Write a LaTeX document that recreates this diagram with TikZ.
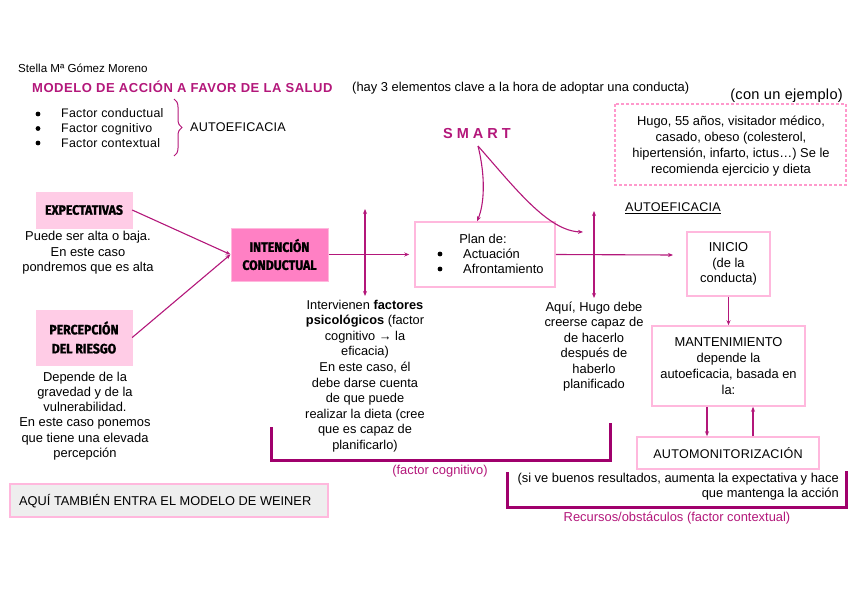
\documentclass[tikz,border=0pt]{standalone}
\usepackage{fontspec}
\setmainfont{Liberation Sans}
\newfontfamily\boxfont[FakeStretch=0.9,FakeBold=1.4]{Fira Sans}
\newfontfamily\titlefont[LetterSpace=4.2]{Liberation Sans}
\newfontfamily\smallspaced[LetterSpace=2]{Liberation Sans}
\usetikzlibrary{arrows.meta,decorations.pathreplacing,calc}
\definecolor{mag}{HTML}{B3177A}
\definecolor{darkmag}{HTML}{A0006C}
\definecolor{pinkborder}{HTML}{FFB8DD}
\definecolor{pinklight}{HTML}{FFCCE6}
\definecolor{hotpink}{HTML}{FF80C4}
\definecolor{dashpink}{HTML}{FF99CC}
\definecolor{weinergray}{HTML}{EEEEEE}
\tikzset{
  txt/.style={font=\fontsize{12.9}{15.5}\selectfont, inner sep=0pt, align=center},
  smalltxt/.style={font=\fontsize{12.9}{15}\selectfont, inner sep=0pt},
  magtxt/.style={font=\fontsize{12.9}{15}\selectfont, inner sep=0pt, text=mag},
  arr/.style={draw=mag, line width=1.1pt, -{Stealth[length=5pt,width=4pt]}},
  dblarr/.style={draw=mag, line width=1.1pt, {Stealth[length=5pt,width=4pt]}-{Stealth[length=5pt,width=4pt]}},
  bracketline/.style={draw=darkmag, line width=3pt},
  lightbox/.style={fill=pinklight, draw=pinklight, inner sep=0pt, align=center,
     font=\boxfont\bfseries\fontsize{13.6}{19}\selectfont},
  hotbox/.style={fill=hotpink, draw=pinkborder, line width=1pt, inner sep=0pt, align=center,
     font=\boxfont\bfseries\fontsize{13.6}{18}\selectfont},
  whitebox/.style={draw=pinkborder, line width=1.5pt, inner sep=0pt, align=center,
     font=\fontsize{12.9}{15.8}\selectfont},
}
\begin{document}
\begin{tikzpicture}[x=1pt,y=-1pt]
\useasboundingbox (0,0) rectangle (848,597);

% header
\node[inner sep=0pt, anchor=base west, font=\fontsize{11.6}{12}\selectfont] (stella) at (18,72) {Stella Mª Gómez Moreno};
\node[inner sep=0pt, anchor=base west, text=mag, font=\titlefont\bfseries\fontsize{13}{14}\selectfont] (title) at (32,92) {MODELO DE ACCIÓN A FAVOR DE LA SALUD};
\node[inner sep=0pt, anchor=base west, font=\fontsize{12.9}{15}\selectfont] (hay) at (352,91.5) {(hay 3 elementos clave a la hora de adoptar una conducta)};

% bullets
\fill (38,114) circle (2.4);
\fill (38,128.5) circle (2.4);
\fill (38,143) circle (2.4);
\node[inner sep=0pt, anchor=base west, font=\smallspaced\fontsize{12.4}{15}\selectfont] (f1) at (61,117.5) {Factor conductual};
\node[inner sep=0pt, anchor=base west, font=\smallspaced\fontsize{12.4}{15}\selectfont] (f2) at (61,132.5) {Factor cognitivo};
\node[inner sep=0pt, anchor=base west, font=\smallspaced\fontsize{12.4}{15}\selectfont] (f3) at (61,147.5) {Factor contextual};
\coordinate (bracetop) at (174,99);
\coordinate (bracebot) at (174,156);
\draw[mag, line width=1pt, decorate, decoration={brace, amplitude=8pt}] (bracetop) -- (bracebot);
\node[inner sep=0pt, anchor=base west, font=\smallspaced\fontsize{12.6}{15}\selectfont] (autoef1) at (190,131.5) {AUTOEFICACIA};

% example
\node[inner sep=0pt, anchor=base east, font=\smallspaced\fontsize{14.6}{15}\selectfont] (ejemplo) at (843,99) {(con un ejemplo)};
\draw[dashpink, line width=1.3pt, dash pattern=on 3pt off 2pt] (615,104) rectangle (846,185);
\node[txt, font=\fontsize{12.9}{16}\selectfont] (hugo) at (731,146) {Hugo, 55 años, visitador médico,\\casado, obeso (colesterol,\\hipertensión, infarto, ictus…) Se le\\recomienda ejercicio y dieta};

% left column
\node[lightbox, minimum width=96pt, minimum height=36pt] (exp) at (84,210) {EXPECTATIVAS};
\node[txt] (expdesc) at (88,253) {Puede ser alta o baja.\\En este caso\\pondremos que es alta};
\node[lightbox, minimum width=96pt, minimum height=55pt] (per) at (84,337.5) {PERCEPCIÓN\\DEL RIESGO};
\node[txt, font=\fontsize{12.9}{15.2}\selectfont] (perdesc) at (85,416) {Depende de la\\gravedad y de la\\vulnerabilidad.\\En este caso ponemos\\que tiene una elevada\\percepción};

% intention
\node[hotbox, minimum width=97pt, minimum height=53pt] (int) at (279.5,254.5) {INTENCIÓN\\CONDUCTUAL};
\draw[arr] (exp.east) -- (int.west);
\draw[arr] (per.east) -- (int.west);

% plan
\node[whitebox, minimum width=140pt, minimum height=65pt] (plan) at (485,254.5) {};
\node[txt] (plantitle) at (483,239) {Plan de:};
\fill (440,254) circle (2.4);
\fill (440,269) circle (2.4);
\node[inner sep=0pt, anchor=base west, font=\fontsize{12.9}{15}\selectfont] (act) at (463,258.5) {Actuación};
\node[inner sep=0pt, anchor=base west, font=\fontsize{12.9}{15}\selectfont] (afr) at (463,273.5) {Afrontamiento};

\draw[arr] (int.east) -- ([xshift=-5pt]plan.west);
\coordinate (c1t) at (365,209);
\coordinate (c1b) at (365,296);
\draw[dblarr] (c1t) -- (c1b);

\node[txt, font=\fontsize{12.8}{15.55}\selectfont] (cogtext) at (365,376) {Intervienen \textbf{factores}\\\textbf{psicológicos} (factor\\cognitivo → la\\eficacia)\\En este caso, él\\debe darse cuenta\\de que puede\\realizar la dieta (cree\\que es capaz de\\planificarlo)};

% SMART
\node[inner sep=0pt, text=mag, font=\bfseries\fontsize{14.5}{15}\selectfont] (smart) at (477,134) {S M A R T};
\coordinate (smartfoot) at (478,146);
\coordinate (smartend) at (583,232);
\draw[arr] (smartfoot) .. controls (486,178) and (484,205) .. ([xshift=-8pt]plan.north);
\draw[arr] (smartfoot) .. controls (515,188) and (548,231) .. (smartend);

% second cross
\coordinate (a2end) at (673,255);
\draw[arr] (plan.east) -- (a2end);
\coordinate (c2t) at (594,211);
\coordinate (c2b) at (594,298);
\draw[dblarr] (c2t) -- (c2b);
\node[txt, font=\fontsize{12.9}{15.4}\selectfont] (hugotext) at (594,346.5) {Aquí, Hugo debe\\creerse capaz de\\de hacerlo\\después de\\haberlo\\planificado};

% right column
\node[inner sep=0pt, font=\smallspaced\fontsize{12.6}{15}\selectfont] (autoef2) at (673,208) {\underline{AUTOEFICACIA}};
\node[whitebox, minimum width=83pt, minimum height=64pt] (ini) at (728.5,264) {INICIO\\(de la\\conducta)};
\node[whitebox, minimum width=153pt, minimum height=80pt] (mant) at (728.5,366) {MANTENIMIENTO\\depende la\\autoeficacia, basada en\\la:};
\node[whitebox, minimum width=182pt, minimum height=32pt, font=\smallspaced\fontsize{12.6}{15}\selectfont] (automon) at (728,453) {AUTOMONITORIZACIÓN};
\draw[arr] (ini.south) -- (mant.north);
\draw[arr] ([xshift=-21.5pt]mant.south) -- ([xshift=-21pt]automon.north);
\draw[arr] ([xshift=25pt]automon.north) -- ([xshift=24.5pt]mant.south);

% brackets
\coordinate (b1a) at (271,427);
\coordinate (b1b) at (271,460);
\coordinate (b1c) at (610,460);
\coordinate (b1d) at (610,423);
\draw[bracketline] (b1a) -- (b1b) -- (b1c) -- (b1d);
\node[magtxt] (factcog) at (440,471) {(factor cognitivo)};

\coordinate (b2a) at (507,472);
\coordinate (b2b) at (507,507);
\coordinate (b2c) at (846,507);
\coordinate (b2d) at (846,471);
\draw[bracketline] (b2a) -- (b2b) -- (b2c) -- (b2d);
\node[inner sep=0pt, align=right, anchor=east, font=\fontsize{12.9}{15}\selectfont] (sive) at (839,486.5) {(si ve buenos resultados, aumenta la expectativa y hace\\que mantenga la acción};
\node[magtxt] (recursos) at (677,518) {Recursos/obstáculos (factor contextual)};

% Weiner
\node[fill=weinergray, draw=pinkborder, line width=1.2pt, minimum width=318pt, minimum height=33pt, inner sep=0pt] (weinerbox) at (169,500.5) {};
\node[inner sep=0pt, anchor=base west, font=\fontsize{12.8}{15}\selectfont] (weiner) at (19,505) {AQUÍ TAMBIÉN ENTRA EL MODELO DE WEINER};
\end{tikzpicture}
\end{document}
